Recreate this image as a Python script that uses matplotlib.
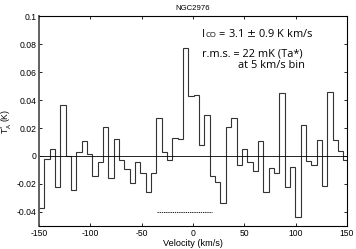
import numpy as np
import matplotlib
matplotlib.use("Agg")
import matplotlib.pyplot as plt

plt.rcParams['font.family'] = ['Liberation Sans', 'DejaVu Sans']
plt.rcParams['axes.unicode_minus'] = False

# spectrum: channel values (K), channel width 5.2 km/s starting at -150
v_start = -150.0
chan_width = 5.2
ta = [-0.037, -0.0024, 0.0048, -0.0224, 0.0364, 0.0, -0.0243, 0.0026, 0.011, 0.0014,
      -0.014, -0.0045, 0.0205, -0.0155, 0.012, -0.003, -0.0095, -0.0195, -0.0045, -0.012,
      -0.026, -0.012, 0.027, 0.0031, -0.0029, 0.0126, 0.012, 0.0769, 0.0429, 0.0436,
      0.0079, 0.029, -0.014, -0.0183, -0.0338, 0.0205, 0.027, -0.0064, 0.0048, -0.004,
      -0.0107, 0.011, -0.026, -0.0088, -0.0124, 0.0448, -0.0219, -0.0081, -0.0433, 0.022,
      -0.0033, -0.0064, 0.0114, -0.0214, 0.0455, 0.0114, 0.0038, -0.0029]
edges = v_start + chan_width * np.arange(len(ta) + 1)

line_range = [-35, 19]   # integration window
line_level = -0.04

xticks = [-150, -100, -50, 0, 50, 100, 150]
yticks = [-0.04, -0.02, 0, 0.02, 0.04, 0.06, 0.08, 0.1]

fig = plt.figure(figsize=(3.56, 2.49), dpi=100)
ax = fig.add_axes([0.1096, 0.0924, 0.865, 0.8433])

ax.stairs(ta, edges, baseline=None, color='#333333', lw=0.8)
ax.axhline(0, color='black', lw=0.6)
ax.plot(line_range, [line_level, line_level], color='black', lw=0.6, ls=(0, (1.6, 1.0)))

ax.set_xlim(-150, 150)
ax.set_ylim(-0.05, 0.1)
ax.set_xticks(xticks)
ax.set_yticks(yticks)
ax.set_yticklabels(['%g' % t for t in yticks])
ax.set_xticklabels(['%g' % t for t in xticks])
ax.tick_params(direction='in', length=2.5, width=0.6, labelsize=6.2, pad=2,
               top=True, right=True)
for s in ax.spines.values():
    s.set_linewidth(0.8)
ax.spines['left'].set_linewidth(1.3)
ax.spines['left'].set_color('#555555')

ax.set_xlabel('Velocity (km/s)', fontsize=6.6, labelpad=1)
ax.set_ylabel(r'T$_\mathregular{A}^\mathregular{*}$ (K)', fontsize=6.2, labelpad=2)
ax.set_title('NGC2976', fontsize=5.6, pad=4)

fs = 7.9
tf = 'Open Sans'
t1 = ax.text(8.5, 0.085, 'I', fontsize=fs, va='baseline', family=tf)
t2 = ax.annotate('CO', xy=(1, 0), xycoords=t1, fontsize=5.6, va='bottom', family=tf,
                 xytext=(0.4, 0.6), textcoords='offset points')
ax.annotate(' = 3.1 $\\pm$ 0.9 K km/s', xy=(1, 0), xycoords=(t2, t1), fontsize=fs,
            va='bottom', family=tf)
ax.text(8.5, 0.0714, 'r.m.s. = 22 mK (Ta*)', fontsize=fs, va='baseline', family=tf)
ax.text(43.6, 0.0629, 'at 5 km/s bin', fontsize=fs, va='baseline', family=tf)

fig.savefig('out.png', dpi=100)
